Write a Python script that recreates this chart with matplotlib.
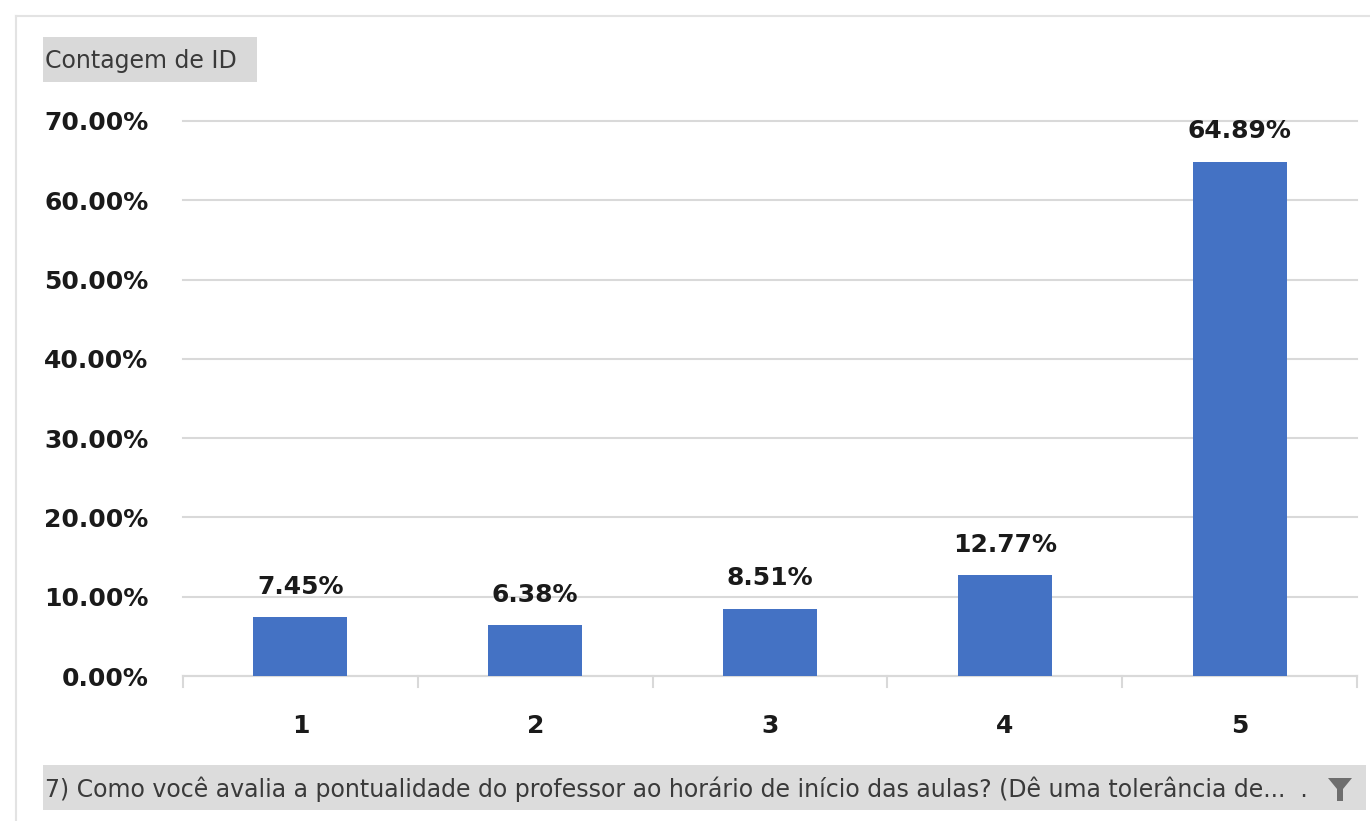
import matplotlib.pyplot as plt
from matplotlib.patches import Rectangle, Polygon
from matplotlib.lines import Line2D

categories = ['1', '2', '3', '4', '5']
shares = [7.45, 6.38, 8.51, 12.77, 64.89]
yticks = [0, 10, 20, 30, 40, 50, 60, 70]
field_label = 'Contagem de ID'
axis_field = ('7) Como você avalia a pontualidade do professor ao horário de '
              'início das aulas? (Dê uma tolerância de...  .')

W, H = 1370, 821
BAR = '#4472c4'
GRID = '#d9d9d9'


def fx(px):
    return px / W


def fy(py):
    return 1 - py / H


fig = plt.figure(figsize=(W / 100, H / 100), dpi=100)
fig.patch.set_facecolor('white')

# panel border (top and left edges)
fig.add_artist(Line2D([fx(16), 1], [fy(16), fy(16)], color='#e3e3e3', lw=1.5))
fig.add_artist(Line2D([fx(16), fx(16)], [fy(16), 0], color='#e3e3e3', lw=1.5))

ax = fig.add_axes([fx(183), fy(676), fx(1357) - fx(183), fy(121) - fy(676)])
x = list(range(len(categories)))
ax.bar(x, shares, width=0.4, color=BAR, zorder=3)
for xi, v in zip(x, shares):
    ax.text(xi, v + 2.3, f'{v:.2f}%', ha='center', va='bottom',
            fontsize=18, fontweight='bold', color='#1a1a1a', clip_on=False)

ax.set_xlim(-0.5, len(categories) - 0.5)
ax.set_ylim(0, 70)
ax.set_yticks(yticks)
ax.set_yticklabels([f'{t:.2f}%' for t in yticks], fontsize=18,
                   fontweight='bold', color='#1a1a1a')
ax.yaxis.grid(True, color=GRID, lw=1.5, zorder=0)
for gl in ax.get_ygridlines():
    gl.set_clip_on(False)
ax.tick_params(axis='y', length=0, pad=25)

ax.set_xticks(x)
ax.set_xticklabels(categories, fontsize=18, fontweight='bold', color='#1a1a1a')
ax.tick_params(axis='x', length=0, pad=27)
# category separators below the axis
for b in [i - 0.5 for i in range(len(categories) + 1)]:
    ax.plot([b, b], [0, -1.4], color=GRID, lw=1.5, clip_on=False, zorder=2)

for side in ['top', 'right', 'left']:
    ax.spines[side].set_visible(False)
ax.spines['bottom'].set_color(GRID)
ax.spines['bottom'].set_linewidth(1.5)

# pivot field buttons
fig.add_artist(Rectangle((fx(43), fy(82)), fx(257) - fx(43), fy(37) - fy(82),
                         facecolor='#d9d9d9', edgecolor='none'))
fig.text(fx(45), fy(61), field_label, fontsize=17, color='#3a3a3a',
         ha='left', va='center')

fig.add_artist(Rectangle((fx(43), fy(810)), fx(1366) - fx(43), fy(765) - fy(810),
                         facecolor='#dcdcdc', edgecolor='none'))
fig.text(fx(45), fy(789), axis_field, fontsize=17, color='#3a3a3a',
         ha='left', va='center')
funnel = [(1328, 778), (1352, 778), (1343, 789), (1343, 801),
          (1337, 801), (1337, 789)]
fig.add_artist(Polygon([(fx(px), fy(py)) for px, py in funnel],
                       closed=True, facecolor='#6e6e6e', edgecolor='none'))

fig.savefig('out.png', dpi=100)
